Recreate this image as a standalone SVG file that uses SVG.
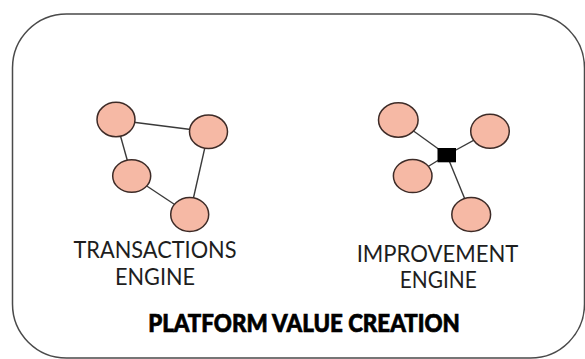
<svg xmlns="http://www.w3.org/2000/svg" width="585" height="359" viewBox="0 0 585 359">
<style>
.node{fill:#F6B9A5;stroke:#3d2b27;stroke-width:1.5}
.edge{stroke:#3a3a3a;stroke-width:1.4;fill:none}
.lbl{font-family:Lato,"Liberation Sans",sans-serif;font-size:23.5px;fill:#1e1e1e;text-anchor:middle}
.title{font-family:Lato,"Liberation Sans",sans-serif;font-size:25.5px;font-weight:900;fill:#000;stroke:#000;stroke-width:0.7;text-anchor:middle}
</style>
<rect width="585" height="359" fill="#fff"/>
<g id="frame">
<rect x="12.5" y="14" width="572" height="344" rx="54" ry="54" fill="none" stroke="#4a4a4a" stroke-width="1.5"/>
</g>
<g id="connectors">
<line class="edge" x1="116" y1="120" x2="208.5" y2="131.7"/>
<line class="edge" x1="116" y1="120" x2="131.7" y2="176"/>
<line class="edge" x1="131.7" y1="176" x2="189.7" y2="214.5"/>
<line class="edge" x1="208.5" y1="131.7" x2="189.7" y2="214.5"/>
<line class="edge" x1="446.8" y1="155" x2="398.3" y2="120"/>
<line class="edge" x1="446.8" y1="155" x2="490" y2="131.3"/>
<line class="edge" x1="446.8" y1="155" x2="412.7" y2="176"/>
<line class="edge" x1="446.8" y1="155" x2="471.2" y2="214.5"/>
</g>
<g id="t1"><ellipse class="node" cx="116" cy="119.5" rx="19" ry="17.2"/></g>
<g id="t2"><ellipse class="node" cx="208.5" cy="131.7" rx="19" ry="16.8"/></g>
<g id="t3"><ellipse class="node" cx="131.7" cy="176" rx="19" ry="16.3"/></g>
<g id="t4"><ellipse class="node" cx="189.7" cy="214.5" rx="19" ry="17"/></g>
<g id="i1"><ellipse class="node" cx="398.3" cy="120" rx="19.8" ry="17.2"/></g>
<g id="i2"><ellipse class="node" cx="490" cy="131.3" rx="19.3" ry="17"/></g>
<g id="i3"><ellipse class="node" cx="412.7" cy="176" rx="19.3" ry="16.6"/></g>
<g id="i4"><ellipse class="node" cx="471.2" cy="214.5" rx="19.4" ry="17"/></g>
<g id="hub"><rect x="437.5" y="148" width="18.5" height="14.3" fill="#000"/></g>
<g id="label-transactions">
<text class="lbl" x="155" y="258.3" textLength="163" lengthAdjust="spacingAndGlyphs">TRANSACTIONS</text>
<text class="lbl" x="155" y="285" textLength="80" lengthAdjust="spacingAndGlyphs">ENGINE</text>
</g>
<g id="label-improvement">
<text class="lbl" x="437.5" y="261.7" textLength="161.7" lengthAdjust="spacingAndGlyphs">IMPROVEMENT</text>
<text class="lbl" x="438.3" y="288.3" textLength="77" lengthAdjust="spacingAndGlyphs">ENGINE</text>
</g>
<g id="title">
<text class="title" x="304" y="331.7" textLength="311.7" lengthAdjust="spacingAndGlyphs">PLATFORM VALUE CREATION</text>
</g>
</svg>
